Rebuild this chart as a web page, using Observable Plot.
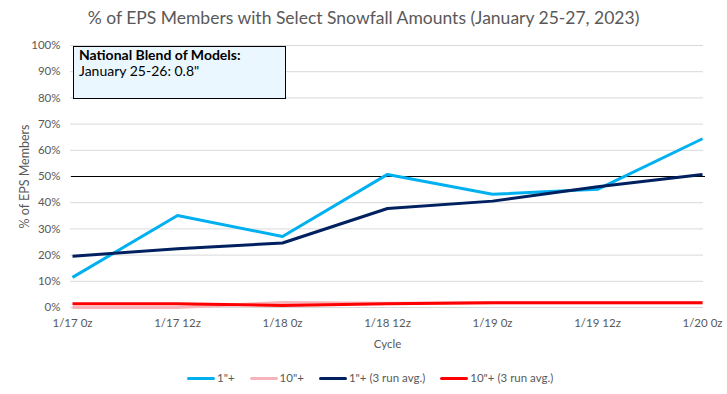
<!DOCTYPE html>
<html>
<head>
<meta charset="utf-8">
<script src="https://cdn.jsdelivr.net/npm/d3@7"></script>
<script src="https://cdn.jsdelivr.net/npm/@observablehq/plot@0.6"></script>
<style>
  body { margin: 0; background: #fff; font-family: Lato, "Open Sans", sans-serif; }
  #wrap { position: relative; width: 727px; height: 394px; overflow: hidden; }
  #title { height: 36px; line-height: 36px; text-align: center; font-size: 17.5px; color: #595959; }
  #chart svg { display: block; }
  #note { position: absolute; left: 73px; top: 46px; width: 213px; height: 53px; box-sizing: border-box;
          border: 1.5px solid #000; background: #ebf7fe; padding: 0 0 0 5px; font-size: 14px; line-height: 16px; color: #000; }
  #note b { font-weight: 700; }
  #legend { position: absolute; left: 187px; top: 371px; display: flex; gap: 15px; font-size: 11.5px; color: #595959; line-height: 14px; }
  .item { display: flex; align-items: center; gap: 2px; }
  .sw { width: 28px; height: 3px; border-radius: 1.5px; }
</style>
</head>
<body>
<div id="wrap">
  <div id="title"></div>
  <div id="chart"></div>
  <div id="note"></div>
  <div id="legend"></div>
</div>
<script>
const titleText = "% of EPS Members with Select Snowfall Amounts (January 25-27, 2023)";
const noteTitle = "National Blend of Models:";
const noteLine = "January 25-26: 0.8\"";
const cycles = ["1/17 0z", "1/17 12z", "1/18 0z", "1/18 12z", "1/19 0z", "1/19 12z", "1/20 0z"];
const yTicks = [0, 10, 20, 30, 40, 50, 60, 70, 80, 90, 100];
const thresholdLine = [50];
// percent of EPS members
const oneInch      = [11.5, 35.1, 27.1, 50.8, 43.2, 45.1, 64.4];
const tenInch      = [0.0, 0.0, 1.9, 1.6, 1.8, 1.8, 1.8];
const oneInchAvg   = [19.6, 22.4, 24.6, 37.8, 40.6, 46.1, 50.8];
const tenInchAvg   = [1.4, 1.4, 0.8, 1.4, 1.8, 1.8, 1.8];
const seriesNames  = ["1\"+", "10\"+", "1\"+ (3 run avg.)", "10\"+ (3 run avg.)"];
const seriesColors = ["#00b0f0", "#f8b4bb", "#002060", "#ff0000"];
const seriesValues = [oneInch, tenInch, oneInchAvg, tenInchAvg];

const rows = seriesValues.map((vals, s) => cycles.map((c, i) => ({cycle: c, value: vals[i], series: seriesNames[s]})));

document.getElementById("title").textContent = titleText;
document.getElementById("note").innerHTML = "<b></b><br><span></span>";
document.querySelector("#note b").textContent = noteTitle;
document.querySelector("#note span").textContent = noteLine;

const gray = "#595959";
const chart = Plot.plot({
  width: 727,
  height: 336,
  marginTop: 9,
  marginBottom: 65,
  marginLeft: 71,
  marginRight: 24,
  style: { fontFamily: "Lato, 'Open Sans', sans-serif", fontSize: "11px", color: gray, background: "#fff" },
  x: { type: "point", domain: cycles, padding: 0 },
  y: { domain: [0, 100] },
  marks: [
    Plot.ruleY(yTicks, { stroke: "#d9d9d9", strokeWidth: 1, insetLeft: -1 }),
    Plot.ruleY(thresholdLine, { stroke: "#000", strokeWidth: 1.2, insetRight: -2 }),
    Plot.axisX({ tickSize: 0, tickPadding: 11, fontSize: 11.5, label: null, color: gray }),
    Plot.axisY({ ticks: yTicks, tickSize: 0, tickPadding: 11, fontSize: 11.5, tickFormat: d => d + "%", label: null, color: gray }),
    ...rows.map((r, s) => Plot.line(r, { x: "cycle", y: "value", stroke: seriesColors[s], strokeWidth: 3, strokeLinejoin: "round", strokeLinecap: "butt" })),
    Plot.text(["Cycle"], { frameAnchor: "bottom", dy: 37, lineAnchor: "middle", textAnchor: "middle", fontSize: 11.5, fill: gray }),
    Plot.text(["% of EPS Members"], { frameAnchor: "left", dx: -47, rotate: -90, textAnchor: "middle", lineAnchor: "middle", fontSize: 12.5, fill: gray })
  ]
});
document.getElementById("chart").appendChild(chart);

const legend = document.getElementById("legend");
seriesNames.forEach((n, i) => {
  const it = document.createElement("div");
  it.className = "item";
  const sw = document.createElement("div");
  sw.className = "sw";
  sw.style.background = seriesColors[i];
  const tx = document.createElement("span");
  tx.textContent = n;
  it.appendChild(sw); it.appendChild(tx);
  legend.appendChild(it);
});
</script>
</body>
</html>
